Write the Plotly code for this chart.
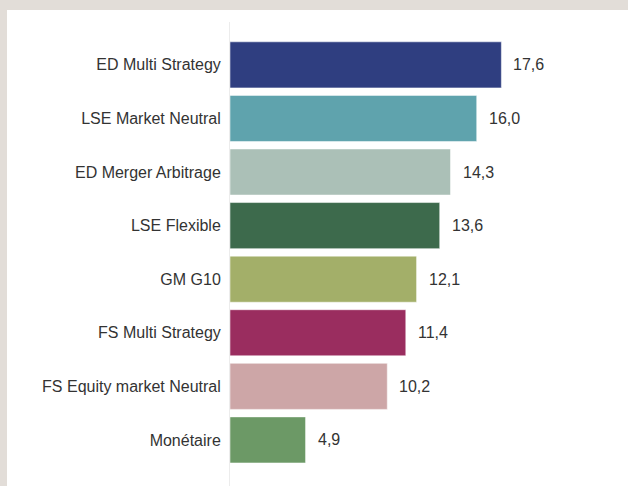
import plotly.graph_objects as go

categories = ["ED Multi Strategy", "LSE Market Neutral", "ED Merger Arbitrage", "LSE Flexible",
              "GM G10", "FS Multi Strategy", "FS Equity market Neutral", "Monétaire"]
values = [17.6, 16.0, 14.3, 13.6, 12.1, 11.4, 10.2, 4.9]
colors = ["#2f3e80", "#5fa3ad", "#abc0b7", "#3d6a4c", "#a3af69", "#9a2d5f", "#cda6a7", "#6c9966"]
value_labels = [f"{v:.1f}".replace(".", ",") for v in values]

FONT = "Liberation Sans, Arial, sans-serif"
FS = 16

fig = go.Figure()
fig.add_trace(go.Bar(
    x=values, y=categories, orientation="h",
    marker=dict(color=colors, line=dict(color="rgba(255,255,255,0.5)", width=1)),
    hoverinfo="skip",
))

for v, c, t in zip(values, categories, value_labels):
    fig.add_annotation(x=v, y=c, text=t, showarrow=False, xanchor="left", xshift=10,
                       font=dict(family=FONT, size=FS, color="#333333"))

W, H = 628, 486
ml, mr, mt, mb = 230, 28, 22, 0
pw, ph = W - ml - mr, H - mt - mb

def px_x(p):
    return (p - ml) / pw

def px_y(p):
    return 1 - (p - mt) / ph

fig.add_shape(type="rect", xref="paper", yref="paper", x0=px_x(0), x1=px_x(W), y0=px_y(10), y1=px_y(0),
              fillcolor="#e2ddd8", line=dict(width=0), layer="above")
fig.add_shape(type="rect", xref="paper", yref="paper", x0=px_x(0), x1=px_x(7), y0=px_y(H), y1=px_y(0),
              fillcolor="#e2ddd8", line=dict(width=0), layer="above")

fig.update_layout(
    width=W, height=H,
    margin=dict(l=ml, r=mr, t=mt, b=mb),
    paper_bgcolor="white", plot_bgcolor="white",
    bargap=0.14,
    showlegend=False,
    font=dict(family=FONT, size=FS, color="#333333"),
    xaxis=dict(range=[0, pw / 15.42], visible=False, fixedrange=True),
    yaxis=dict(categoryorder="array", categoryarray=categories[::-1],
               range=[-0.86, 7.80], showline=True, linecolor="#ececec", linewidth=1,
               showgrid=False, zeroline=False, ticks="", ticklabelstandoff=5,
               tickfont=dict(family=FONT, size=FS, color="#333333")),
)

fig.write_html("out.html", config={"displayModeBar": False},
               post_script="document.body.style.margin='0';document.body.style.overflow='hidden';")
